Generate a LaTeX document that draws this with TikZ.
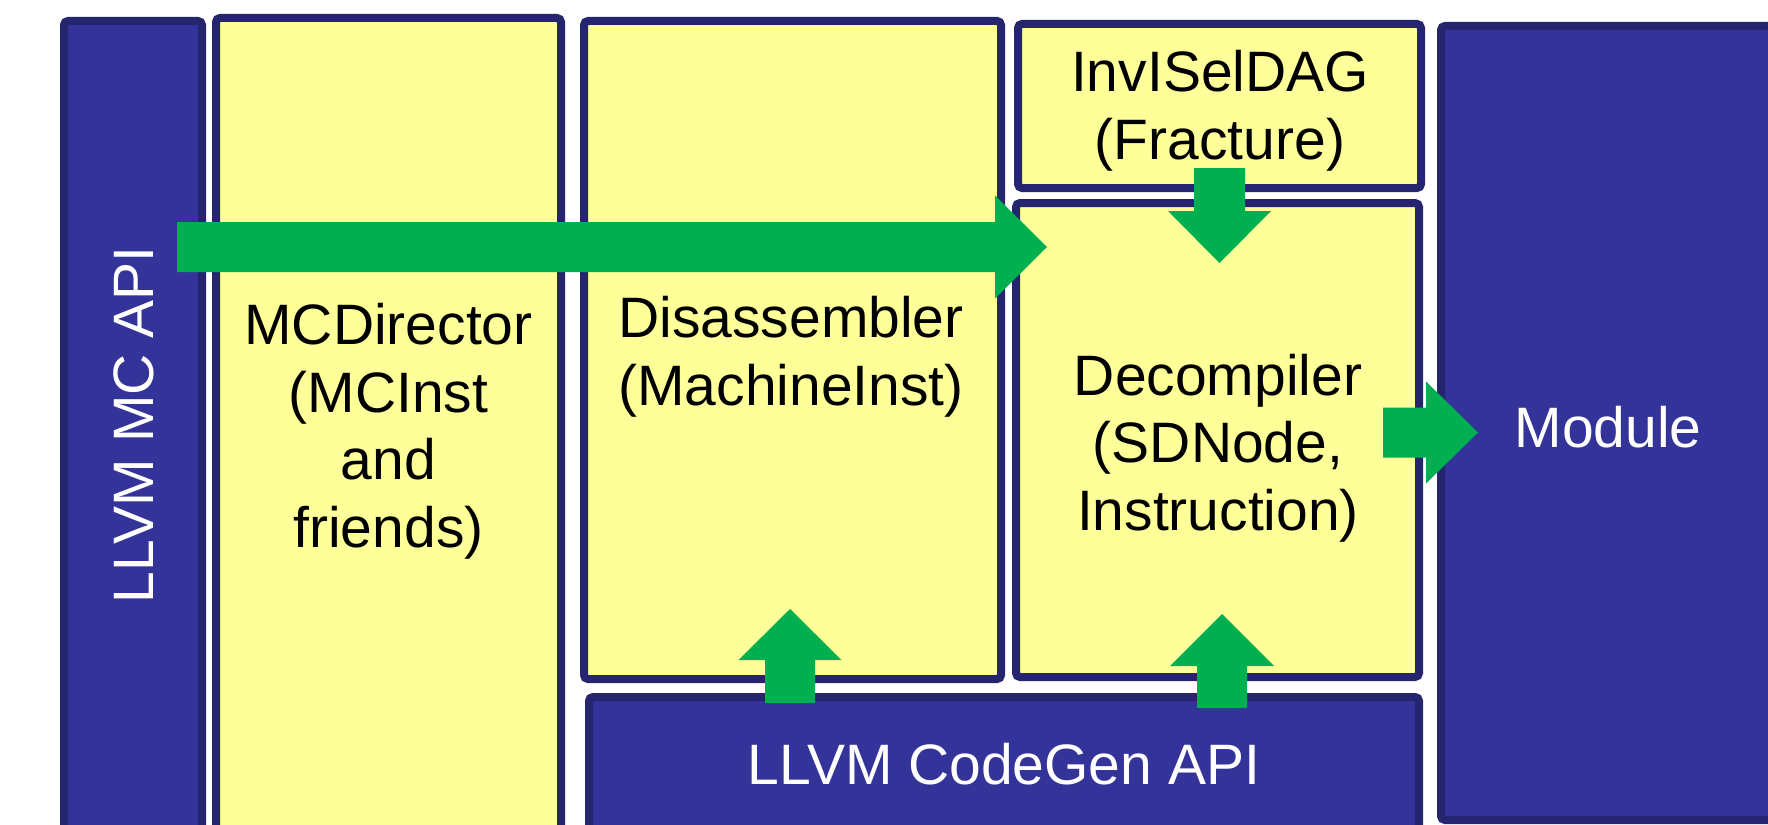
\documentclass[tikz,border=0pt]{standalone}
\usepackage{fontspec}
\setmainfont{Liberation Sans}
\usetikzlibrary{calc}
\definecolor{boxblue}{HTML}{333399}
\definecolor{boxline}{HTML}{25256F}
\definecolor{boxyellow}{HTML}{FFFF99}
\definecolor{flowgreen}{HTML}{00B050}
% #1 start, #2 tip, #3 shaft half width, #4 head half width, #5 head length
\newcommand\blockarrow[5]{%
  \coordinate (ba-hb) at ($(#2)!#5!(#1)$);
  \fill[flow] ($(#1)!#3!90:(#2)$) -- ($(ba-hb)!#3!-90:(#1)$) -- ($(ba-hb)!#4!-90:(#1)$)
    -- (#2) -- ($(ba-hb)!#4!90:(#1)$) -- ($(ba-hb)!#3!90:(#1)$) -- ($(#1)!#3!-90:(#2)$) -- cycle;}
\begin{document}
\begin{tikzpicture}[x=1pt,y=-1pt,
  box/.style={draw=boxline, line width=8pt, rounded corners=4pt, inner sep=0pt, outer sep=0pt},
  bluebox/.style={box, fill=boxblue},
  yellowbox/.style={box, fill=boxyellow},
  flow/.style={fill=flowgreen},
  lbl/.style={font=\fontsize{57}{67.5}\selectfont, inner sep=0pt, align=center, anchor=base},
  whitelbl/.style={lbl, text=white},
  blacklbl/.style={lbl, text=black}]
\useasboundingbox (0,0) rectangle (1768,824);
\clip (0,0) rectangle (1768,824);
% boxes
\node[bluebox, minimum width=138pt, minimum height=835pt] (mcapi) at (133,438.5) {};
\node[yellowbox, minimum width=345pt, minimum height=838pt] (mcdir) at (388.5,437) {};
\node[yellowbox, minimum width=417pt, minimum height=658pt] (disasm) at (792.5,350) {};
\node[yellowbox, minimum width=403pt, minimum height=164pt] (invisel) at (1219.5,106) {};
\node[yellowbox, minimum width=403pt, minimum height=474pt] (decomp) at (1217.5,440) {};
\node[bluebox, minimum width=830pt, minimum height=159pt] (codegen) at (1004,776.5) {};
\node[bluebox, minimum width=375pt, minimum height=794pt] (module) at (1628.5,423) {};
% labels (base anchor = baseline of the last line)
\node[whitelbl, rotate=90] (mcapitext) at (153,425) {LLVM MC API};
\node[blacklbl] (mcdirtext) at (388.5,547) {MCDirector\\(MCInst\\and\\friends)};
\node[blacklbl] (disasmtext) at (791,405) {Disassembler\\(MachineInst)};
\node[blacklbl] (inviseltext) at (1220,159.5) {InvISelDAG\\(Fracture)};
\node[blacklbl] (decomptext) at (1218,530) {Decompiler\\(SDNode,\\Instruction)};
\node[whitelbl] (moduletext) at (1608,447) {Module};
\node[whitelbl] (codegentext) at (1004,784) {LLVM CodeGen API};
% arrow end points
\coordinate (a1s) at (177,247);   \coordinate (a1t) at (1047,247);
\coordinate (a2s) at (1219.5,168); \coordinate (a2t) at (1219.5,263);
\coordinate (a3s) at (1383,432.5); \coordinate (a3t) at (1478,432.5);
\coordinate (a4s) at (790,703);   \coordinate (a4t) at (790,609);
\coordinate (a5s) at (1222,708);  \coordinate (a5t) at (1222,614);
% arrows
\blockarrow{a1s}{a1t}{25pt}{51.5pt}{52pt}
\blockarrow{a2s}{a2t}{25.5pt}{51.5pt}{52pt}
\blockarrow{a3s}{a3t}{25pt}{51pt}{52pt}
\blockarrow{a4s}{a4t}{25pt}{51.5pt}{51pt}
\blockarrow{a5s}{a5t}{25pt}{52pt}{52pt}
\end{tikzpicture}
\end{document}
